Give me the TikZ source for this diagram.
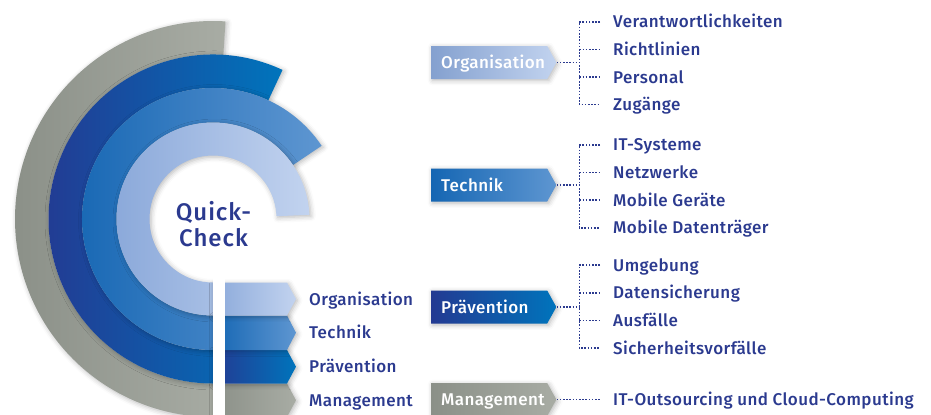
\documentclass[tikz,border=0pt]{standalone}
\usepackage{fontspec}
\setmainfont{Fira Sans Medium}[LetterSpace=2.5]
\newfontfamily\qcfont{Fira Sans Medium}[LetterSpace=4]
\usetikzlibrary{calc,shapes.symbols,shadows.blur}
\definecolor{navy}{HTML}{2B3A8F}
\definecolor{lightL}{HTML}{8BA9DA}
\definecolor{lightR}{HTML}{C2D3EF}
\definecolor{medL}{HTML}{1566B3}
\definecolor{medR}{HTML}{5E96D1}
\definecolor{darkL}{HTML}{233A92}
\definecolor{darkR}{HTML}{0074BC}
\definecolor{greyL}{HTML}{8B9088}
\definecolor{greyR}{HTML}{A8ACA4}
\begin{document}
\begin{tikzpicture}[x=1bp,y=-1bp,
  softshadow/.style={blur shadow={shadow xshift=1.5pt,shadow yshift=-1.5pt,shadow blur radius=5pt,shadow opacity=28}},
  ringshade/.style 2 args={left color=#1,right color=#2,softshadow},
  txt/.style={font=\fontsize{17bp}{20bp}\selectfont},
  sidelabel/.style={txt,text=navy,anchor=west,inner sep=0pt,text height=12bp,text depth=0pt},
  item/.style={txt,text=navy,anchor=west,inner xsep=13bp,inner ysep=0pt,text height=12bp,text depth=0pt},
  groupbox/.style={txt,shape=signal,signal to=east,signal pointer angle=122,anchor=west,
     minimum height=33bp,text width=96bp,inner xsep=10bp,align=left,text=white,text height=12bp,text depth=0pt,softshadow},
  dotline/.style={draw=navy,line width=1.6bp,dash pattern=on 1.6bp off 1.6bp}
]
\useasboundingbox (0,0) rectangle (931,414);
\coordinate (C) at (213,219);

% ---- rings (outer first) ----
\path[ringshade={greyL}{greyR}] ($(C)+(-86.4:198)$) arc[start angle=-86.4,end angle=-270,radius=198]
   -- ++(0,-33.5) arc[start angle=-270,end angle=-86.4,radius=164.5] -- cycle;
\path[ringshade={darkL}{darkR}] ($(C)+(-65:164.5)$) arc[start angle=-65,end angle=-270,radius=164.5]
   -- ++(0,-33.5) arc[start angle=-270,end angle=-65,radius=131] -- cycle;
\path[ringshade={medL}{medR}] ($(C)+(-34:131)$) arc[start angle=-34,end angle=-270,radius=131]
   -- ++(0,-34.5) arc[start angle=-270,end angle=-34,radius=96.5] -- cycle;
\path[ringshade={lightL}{lightR}] ($(C)+(-2.5:96.5)$) arc[start angle=-2.5,end angle=-270,radius=96.5]
   -- ++(0,-33) arc[start angle=-270,end angle=-2.5,radius=63.5] -- cycle;

% ---- bands ----
\path[ringshade={greyL}{greyR}] (213,383.5) -- (287,383.5) -- (296,400.2) -- (287,417) -- (213,417) -- cycle;
\path[ringshade={darkL}{darkR}] (213,350) -- (287,350) -- (296,366.7) -- (287,383.5) -- (213,383.5) -- cycle;
\path[ringshade={medL}{medR}] (213,315.5) -- (287,315.5) -- (296,332.7) -- (287,350) -- (213,350) -- cycle;
\path[ringshade={lightL}{lightR}] (213,282.5) -- (287,282.5) -- (296,299) -- (287,315.5) -- (213,315.5) -- cycle;

% white bar
\fill[white] (213,257) rectangle (225,416);

% centre text
\node[text=navy,align=center,font=\qcfont\fontsize{24bp}{25.5bp}\selectfont,inner sep=0pt] (qc) at (213.5,224) {Quick-\\Check};

% side labels
\node[sidelabel] (lOrg) at (309,299) {Organisation};
\node[sidelabel] (lTec) at (309,332.7) {Technik};
\node[sidelabel] (lPra) at (309,366.7) {Prävention};
\node[sidelabel] (lMan) at (309,400.2) {Management};

% group boxes
\node[groupbox,left color=lightL!95!black,right color=lightR] (gOrg) at (431,62.5) {Organisation};
\node[groupbox,left color=medL,right color=medR] (gTec) at (431,185) {Technik};
\node[groupbox,left color=darkL,right color=darkR] (gPra) at (431,307) {Prävention};
\node[groupbox,left color=greyL,right color=greyR] (gMan) at (431,399.5) {Management};

% items
\node[item] (o1) at (600,21.7) {Verantwortlichkeiten};
\node[item] (o2) at (600,49.3) {Richtlinien};
\node[item] (o3) at (600,77.1) {Personal};
\node[item] (o4) at (600,104.3) {Zugänge};
\node[item] (t1) at (600,144.7) {IT-Systeme};
\node[item] (t2) at (600,172.3) {Netzwerke};
\node[item] (t3) at (600,200.1) {Mobile Geräte};
\node[item] (t4) at (600,227.7) {Mobile Datenträger};
\node[item] (p1) at (600,265) {Umgebung};
\node[item] (p2) at (600,292.7) {Datensicherung};
\node[item] (p3) at (600,320.5) {Ausfälle};
\node[item] (p4) at (600,348) {Sicherheitsvorfälle};
\node[item] (m1) at (600,399.5) {IT-Outsourcing und Cloud-Computing};

% connectors
\coordinate (jO) at (579.3,62.5);
\coordinate (jT) at (579.3,185);
\coordinate (jP) at (579.3,307);
\draw[dotline] (gOrg.east) -- (jO);
\draw[dotline] (gTec.east) -- (jT);
\draw[dotline] (gPra.east) -- (jP);
\draw[dotline] (gMan.east) -- (m1.west);
\foreach \g/\a/\b in {O/o1/o4,T/t1/t4,P/p1/p4}{
  \draw[dotline] (\a.west) -- (\a.west -| j\g) -- (\b.west -| j\g) -- (\b.west);
}
\foreach \n in {o2,o3,t2,t3,p2,p3}{
  \draw[dotline] (\n.west -| jO) -- (\n.west);
}
\end{tikzpicture}
\end{document}
